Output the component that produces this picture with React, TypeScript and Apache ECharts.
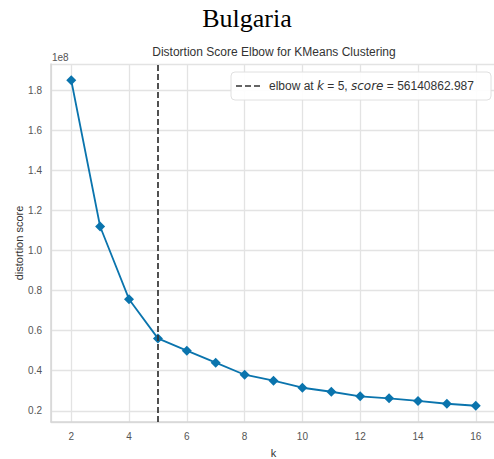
import React, { useEffect, useRef } from "react";
import * as echarts from "echarts";

const kValues = [2, 3, 4, 5, 6, 7, 8, 9, 10, 11, 12, 13, 14, 15, 16];
const distortionScores = [
  185000000, 112000000, 75700000, 56140862.987, 50000000, 44000000, 38000000,
  35000000, 31500000, 29500000, 27200000, 26200000, 24900000, 23500000, 22500000,
];
const elbowK = 5;
const elbowScore = "56140862.987";
const chartTitle = "Bulgaria";
const plotTitle = "Distortion Score Elbow for KMeans Clustering";

const SANS = "'Liberation Sans', Arial, sans-serif";

export default function App() {
  const ref = useRef<HTMLDivElement>(null);
  useEffect(() => {
    if (!ref.current) return;
    const chart = echarts.init(ref.current, undefined, { renderer: "svg" });
    const data = kValues.map((k, i) => [k, distortionScores[i]]);
    chart.setOption({
      animation: false,
      backgroundColor: "#ffffff",
      grid: { left: 51, top: 64, width: 445, height: 358, outerBoundsMode: "none", containLabel: false },
      xAxis: {
        type: "value",
        min: 1.3,
        max: 16.7,
        minInterval: 2,
        maxInterval: 2,
        name: "k",
        nameLocation: "middle",
        nameGap: 25,
        nameMoveOverlap: false,
        nameTextStyle: { fontFamily: SANS, fontSize: 11, color: "#333" },
        axisLine: { show: true, lineStyle: { color: "#d6d6d6", width: 1.5 } },
        axisTick: { show: false },
        axisLabel: {
          fontFamily: SANS,
          fontSize: 10,
          color: "#555",
          margin: 9,
          showMinLabel: false,
          showMaxLabel: false,
        },
        splitLine: { show: true, lineStyle: { color: "#e3e3e3", width: 1.3 } },
      },
      yAxis: {
        type: "value",
        min: 14400000,
        max: 193100000,
        minInterval: 20000000,
        maxInterval: 20000000,
        name: "distortion score",
        nameLocation: "middle",
        nameGap: 27,
        nameMoveOverlap: false,
        nameTextStyle: { fontFamily: SANS, fontSize: 11, color: "#333" },
        axisLine: { show: true, lineStyle: { color: "#d6d6d6", width: 1.5 } },
        axisTick: { show: false },
        axisLabel: {
          fontFamily: SANS,
          fontSize: 10,
          color: "#555",
          margin: 9,
          showMinLabel: false,
          showMaxLabel: false,
          formatter: (v: number) => (v / 1e8).toFixed(1),
        },
        splitLine: { show: true, lineStyle: { color: "#e3e3e3", width: 1.3 } },
      },
      series: [
        {
          type: "line",
          data,
          symbol: "diamond",
          symbolSize: 10,
          itemStyle: { color: "#0a74ad" },
          lineStyle: { color: "#0a74ad", width: 1.8 },
          markLine: {
            silent: true,
            symbol: "none",
            label: { show: false },
            lineStyle: { color: "#333", type: [6, 3], width: 1.7 },
            data: [{ xAxis: elbowK }],
          },
        },
      ],
      graphic: [
        {
          type: "text",
          x: 247,
          y: 18,
          style: {
            text: chartTitle,
            fontFamily: "'Liberation Serif', 'Times New Roman', serif",
            fontSize: 26,
            fill: "#000",
            align: "center",
            verticalAlign: "middle",
          },
        },
        {
          type: "text",
          x: 274,
          y: 52,
          style: {
            text: plotTitle,
            fontFamily: SANS,
            fontSize: 12,
            fill: "#333",
            align: "center",
            verticalAlign: "middle",
          },
        },
        {
          type: "text",
          x: 52,
          y: 57,
          style: {
            text: "1e8",
            fontFamily: SANS,
            fontSize: 10,
            fill: "#555",
            align: "left",
            verticalAlign: "middle",
          },
        },
        {
          type: "rect",
          shape: { x: 231, y: 72, width: 260, height: 28, r: 4 },
          style: { fill: "rgba(255,255,255,0.9)", stroke: "#e0e0e0", lineWidth: 1 },
          z: 100,
        },
        {
          type: "line",
          shape: { x1: 236, y1: 86, x2: 260, y2: 86 },
          style: { stroke: "#333", lineWidth: 1.7, lineDash: [6, 3] },
          z: 101,
        },
        {
          type: "text",
          x: 269,
          y: 86,
          z: 101,
          style: {
            text: "{n|elbow at }{i|k}{n| = " + elbowK + ", }{i|score}{n| = " + elbowScore + "}",
            verticalAlign: "middle",
            align: "left",
            rich: {
              n: { fontFamily: SANS, fontSize: 12, fill: "#333" },
              i: { fontFamily: "'DejaVu Sans', sans-serif", fontStyle: "italic", fontSize: 12, fill: "#333" },
            },
          },
        },
      ],
    });
    return () => chart.dispose();
  }, []);
  return (
    <div
      ref={ref}
      style={{ position: "fixed", left: 0, top: 0, width: 494, height: 459 }}
    />
  );
}
